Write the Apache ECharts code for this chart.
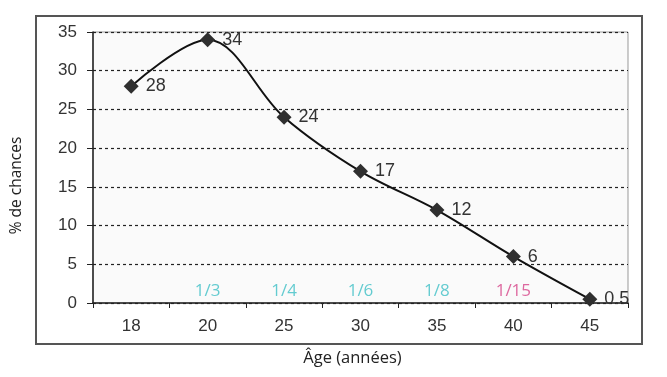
<!DOCTYPE html>
<html>
<head>
<meta charset="utf-8">
<script src="https://cdn.jsdelivr.net/npm/echarts@6/dist/echarts.min.js"></script>
<style>
html,body{margin:0;padding:0;background:#fff;}
#chart{width:667px;height:377px;}
</style>
</head>
<body>
<div id="chart"></div>
<script>
var ages = ['18', '20', '25', '30', '35', '40', '45'];
var chances = [28, 34, 24, 17, 12, 6, 0.5];
var odds = ['', '1/3', '1/4', '1/6', '1/8', '1/15', ''];
var oddsColors = ['', '#3dbfc5', '#3dbfc5', '#3dbfc5', '#3dbfc5', '#d64388', ''];
var yTicks = [0, 5, 10, 15, 20, 25, 30, 35];

var chart = echarts.init(document.getElementById('chart'));

var oddsData = [];
for (var i = 0; i < ages.length; i++) {
	oddsData.push({
		value: 0,
		label: { formatter: odds[i], color: oddsColors[i] }
	});
}

chart.setOption({
	animation: false,
	graphic: [{
		type: 'rect',
		shape: { x: 36, y: 16, width: 606, height: 328 },
		style: { fill: 'none', stroke: '#555', lineWidth: 2 },
		z: -1
	}],
	grid: {
		left: 93, right: 39, top: 32, bottom: 74,
		show: true,
		backgroundColor: '#fafafa',
		borderColor: '#999',
		borderWidth: 1
	},
	xAxis: {
		type: 'category',
		data: ages,
		name: 'Âge (années)',
		nameLocation: 'middle',
		nameGap: 47,
		nameTextStyle: { fontFamily: 'Open Sans', fontSize: 16.5, color: '#222', padding: [0, 16, 0, 0] },
		axisLine: { lineStyle: { color: '#222', width: 1.5 } },
		axisTick: { show: true, length: 5, lineStyle: { color: '#222' } },
		axisLabel: { fontFamily: 'Liberation Sans', fontSize: 17, color: '#333', margin: 15 }
	},
	yAxis: {
		type: 'value',
		min: 0, max: 35, interval: 5,
		name: '% de chances',
		nameLocation: 'middle',
		nameGap: 68,
		nameRotate: 90,
		nameTextStyle: { fontFamily: 'Open Sans', fontSize: 15.5, color: '#222', padding: [0, 36, 0, 0] },
		axisLine: { show: true, lineStyle: { color: '#222', width: 1.5 } },
		axisTick: { show: true, length: 6, lineStyle: { color: '#222' } },
		axisLabel: {
			fontFamily: 'Liberation Sans', fontSize: 17, color: '#333', margin: 16,
			formatter: function (v) { return yTicks.indexOf(v) >= 0 ? String(v) : ''; }
		},
		splitLine: { show: true, lineStyle: { color: '#222', type: [3, 3], width: 1.2 } }
	},
	series: [{
		type: 'line',
		data: chances,
		smooth: 0.35,
		symbol: 'diamond',
		symbolSize: 15,
		itemStyle: { color: '#2f2f2f' },
		lineStyle: { color: '#111', width: 2 },
		label: {
			show: true,
			position: 'right',
			distance: 7,
			fontFamily: 'Liberation Sans',
			fontSize: 18,
			color: '#333'
		},
		z: 3
	}, {
		type: 'scatter',
		data: oddsData,
		symbolSize: 0,
		silent: true,
		label: {
			show: true,
			position: 'top',
			distance: 3,
			fontFamily: 'Open Sans',
			fontSize: 17
		},
		z: 2
	}]
});
</script>
</body>
</html>
